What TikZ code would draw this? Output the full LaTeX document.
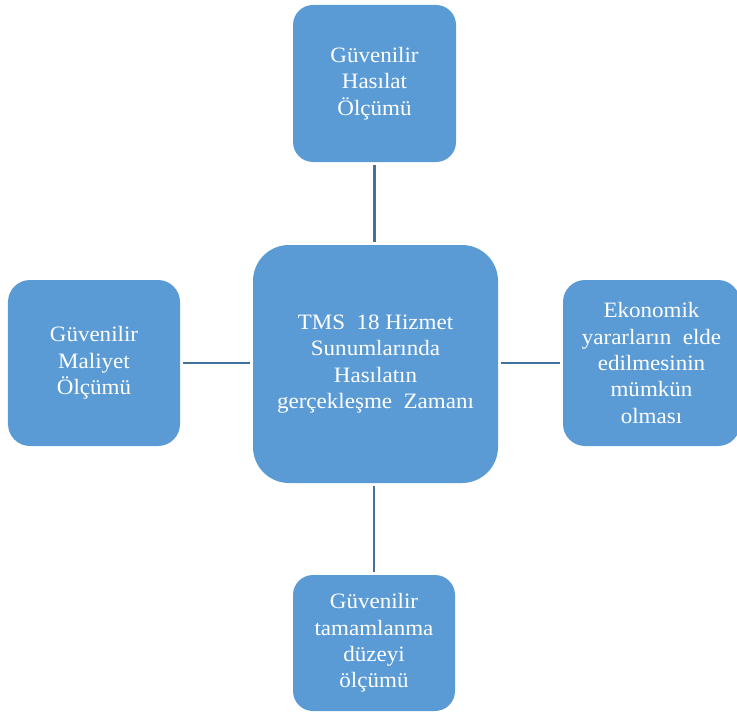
\documentclass[tikz,border=0pt]{standalone}
\usepackage{fontspec}
\setmainfont[FakeStretch=1.05]{Liberation Serif}
\definecolor{boxfill}{HTML}{5B9BD5}
\definecolor{linkline}{HTML}{41719C}
\begin{document}
\begin{tikzpicture}[x=1bp,y=-1bp,
  card/.style={draw=none, fill=boxfill, text=white, align=center,
    font=\fontsize{22}{26.5}\selectfont, inner sep=0pt},
  link/.style={draw=linkline, line width=2.6bp, shorten <=3bp, shorten >=3bp}]
\useasboundingbox (0,0) rectangle (737,712);
% centre box
\node[card, minimum width=245bp, minimum height=238bp, rounded corners=36bp] (core) at (375.5,364)
  {TMS\ \ 18 Hizmet\\Sunumlarında\\Hasılatın\\gerçekleşme\ \ Zamanı};
% surrounding boxes
\node[card, minimum width=163bp, minimum height=157bp, rounded corners=20bp] (top) at (374.5,83.5)
  {Güvenilir\\Hasılat\\Ölçümü};
\node[card, minimum width=172bp, minimum height=166bp, rounded corners=22bp] (left) at (94,363)
  {Güvenilir\\Maliyet\\Ölçümü};
\node[card, minimum width=177bp, minimum height=166bp, rounded corners=22bp] (right) at (651.5,363)
  {Ekonomik\\yararların\ \ elde\\edilmesinin\\mümkün\\olması};
\node[card, minimum width=162bp, minimum height=136bp, rounded corners=20bp] (bottom) at (374,643)
  {Güvenilir\\tamamlanma\\düzeyi\\ölçümü};
% connectors
\draw[link] (top.south) -- (top.south |- core.north);
\draw[link] (bottom.north) -- (bottom.north |- core.south);
\draw[link] (left.east) -- (left.east -| core.west);
\draw[link] (right.west) -- (right.west -| core.east);
\end{tikzpicture}
\end{document}
